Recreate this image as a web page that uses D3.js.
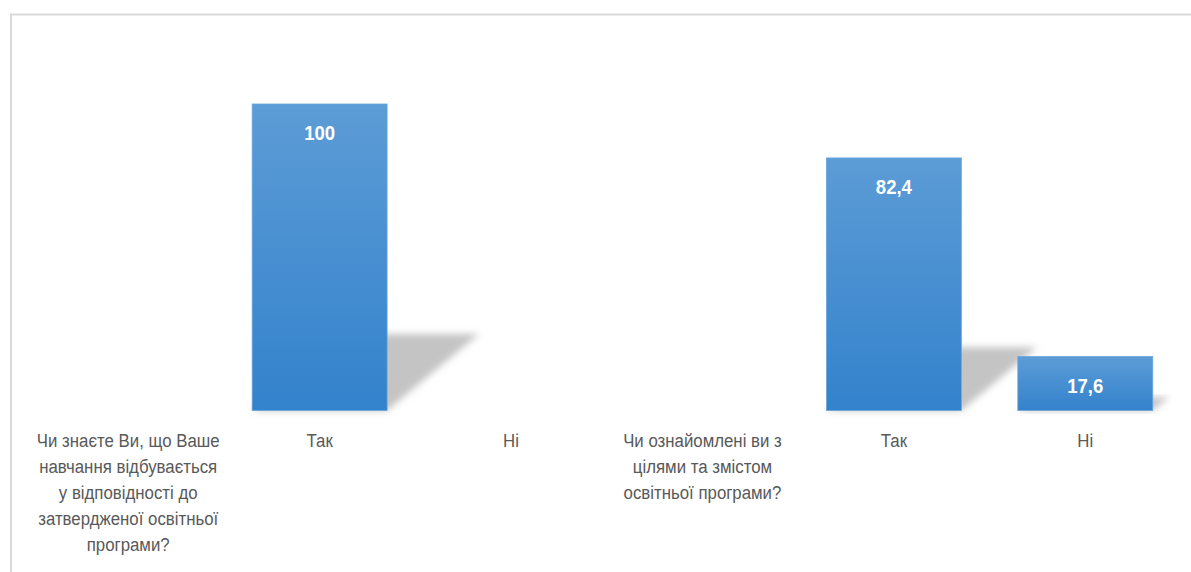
<!DOCTYPE html>
<html><head><meta charset="utf-8">
<script src="https://cdn.jsdelivr.net/npm/d3@7"></script>
<style>html,body{margin:0;padding:0;background:#fff;}svg{display:block;}</style>
</head><body>
<script>
const categoryLabels = [
  ["Чи знаєте Ви, що Ваше", "навчання відбувається", "у відповідності до", "затвердженої освітньої", "програми?"],
  ["Так"],
  ["Ні"],
  ["Чи ознайомлені ви з", "цілями та змістом", "освітньої програми?"],
  ["Так"],
  ["Ні"]
];
const values = [null, 100, null, null, 82.4, 17.6];
const valueLabels = ["", "100", "", "", "82,4", "17,6"];

const W = 1191, H = 572;
const svg = d3.select("body").append("svg").attr("width", W).attr("height", H);

const defs = svg.append("defs");
const grad = defs.append("linearGradient").attr("id", "barGrad").attr("x1", 0).attr("y1", 0).attr("x2", 0).attr("y2", 1);
grad.append("stop").attr("offset", "0%").attr("stop-color", "#5c9cd6");
grad.append("stop").attr("offset", "100%").attr("stop-color", "#3382cc");
const blur = defs.append("filter").attr("id", "shBlur").attr("x", "-20%").attr("y", "-20%").attr("width", "140%").attr("height", "140%");
blur.append("feGaussianBlur").attr("stdDeviation", 3.5);

// frame
svg.append("path").attr("d", `M11,${H} L11,14.5 L${W},14.5`).attr("fill", "none").attr("stroke", "#d9d9d9").attr("stroke-width", 2);

const x = d3.scaleBand().domain(d3.range(categoryLabels.length)).range([32.5, 1181]).paddingInner(0.295).paddingOuter(0.1475);
const y = d3.scaleLinear().domain([0, 100]).range([410.5, 104]);

const data = values.map((v, i) => ({i, v, label: valueLabels[i]})).filter(d => d.v != null);

// shadows
svg.append("g").selectAll("path").data(data).join("path")
  .attr("d", d => {
    const x0 = x(d.i), x1 = x(d.i) + x.bandwidth();
    const base = y(0), h = y(0) - y(d.v);
    const sh = h * 0.25, dx = sh * 1.2;
    return `M${x0},${base} L${x1},${base} L${x1 + dx},${base - sh} L${x0 + dx},${base - sh} Z`;
  })
  .attr("fill", "#c4c4c4").attr("filter", "url(#shBlur)");

// bars
svg.append("g").selectAll("rect").data(data).join("rect")
  .attr("x", d => x(d.i)).attr("width", x.bandwidth())
  .attr("y", d => y(d.v)).attr("height", d => y(0) - y(d.v))
  .attr("fill", "url(#barGrad)").attr("stroke", "#6aa6dc").attr("stroke-width", 0.8);

// value labels
svg.append("g").selectAll("g").data(data).join("g")
  .attr("transform", d => `translate(${x(d.i) + x.bandwidth() / 2},${y(d.v) + 36}) scale(0.95,1)`)
  .append("text")
  .attr("text-anchor", "middle").attr("fill", "#fff")
  .attr("font-family", "Liberation Sans, Arial, sans-serif").attr("font-weight", "bold").attr("font-size", 19.5)
  .text(d => d.label);

// category labels (condensed face)
const cg = svg.append("g").attr("font-family", "Liberation Sans, Arial, sans-serif").attr("font-size", 19).attr("fill", "#595959");
categoryLabels.forEach((lines, i) => {
  const g = cg.append("g").attr("transform", `translate(${x(i) + x.bandwidth() / 2},0) scale(0.885,1)`);
  const t = g.append("text").attr("text-anchor", "middle");
  lines.forEach((ln, j) => {
    t.append("tspan").attr("x", 0).attr("y", 447 + j * 26).text(ln);
  });
});
</script>
</body></html>
